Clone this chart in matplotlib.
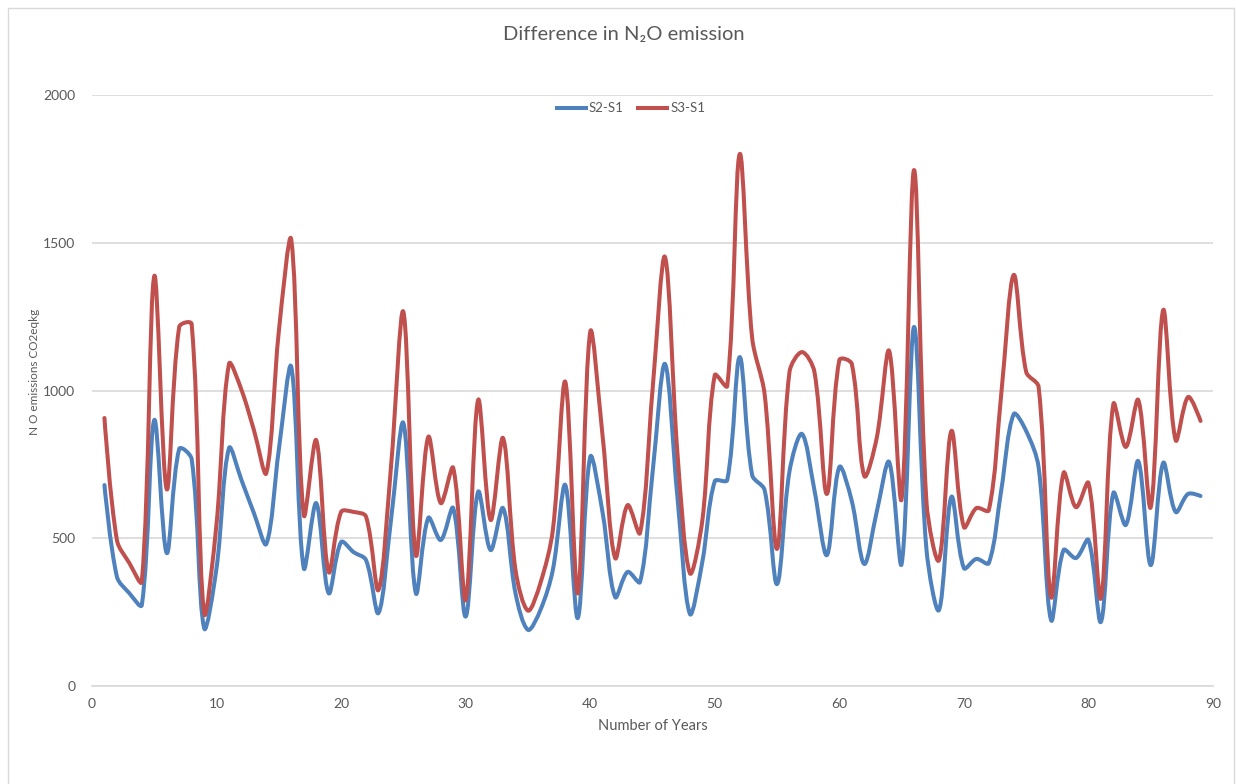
import numpy as np
import matplotlib
matplotlib.use('Agg')
import matplotlib.pyplot as plt
from matplotlib.path import Path
from matplotlib.patches import PathPatch, Rectangle
from matplotlib.lines import Line2D

plt.rcParams['font.family'] = ['Lato', 'DejaVu Sans']

years = list(range(1, 90))

s2_s1 = [680, 370, 314, 274, 900, 450, 802, 768, 196, 400,
         805, 697, 585, 481, 800, 1080, 399, 619, 314, 487,
         453, 426, 247, 560, 890, 314, 569, 494, 602, 235,
         657, 460, 602, 314, 190, 257, 393, 680, 230, 775,
         585, 301, 386, 352, 720, 1090, 640, 244, 420, 693,
         697, 1113, 714, 663, 345, 727, 853, 663, 443, 741,
         626, 413, 589, 758, 413, 1215, 460, 257, 640, 399,
         430, 416, 663, 920, 863, 740, 223, 460, 433, 494,
         217, 653, 545, 761, 409, 755, 589, 650, 643]

s3_s1 = [907, 494, 416, 353, 1387, 666, 1215, 1225, 247, 550,
         1090, 1002, 866, 721, 1200, 1510, 579, 832, 386, 589,
         589, 573, 325, 740, 1266, 443, 843, 619, 738, 291,
         968, 562, 839, 393, 255, 348, 528, 1029, 314, 1198,
         843, 433, 612, 518, 1000, 1452, 790, 382, 560, 1052,
         1015, 1800, 1178, 988, 464, 1063, 1130, 1063, 650, 1103,
         1090, 711, 839, 1134, 633, 1746, 620, 426, 863, 538,
         602, 595, 988, 1391, 1063, 1012, 301, 721, 605, 687,
         297, 954, 809, 968, 605, 1272, 832, 978, 897]

series_names = ['S2-S1', 'S3-S1']
series_colors = ['#4F81BD', '#C0504D']
text_color = '#595959'
grid_color = '#D9D9D9'

# pixels per data unit, used to weigh the bezier handles in screen space
PX_X = 1121 / 90
PX_Y = 591 / 2000


def smooth_path(x, y):
    # bezier through every point; handle length follows neighbouring segment lengths
    pts = np.column_stack([x, y]).astype(float)
    scr = pts * [PX_X, PX_Y]
    n = len(pts)
    seg = np.hypot(*np.diff(scr, axis=0).T)

    def handle(i):
        # tangent at point i, split into (back, forward) offsets
        if i == 0 or i == n - 1:
            return np.zeros(2), np.zeros(2)
        t = pts[i + 1] - pts[i - 1]
        d0, d1 = seg[i - 1], seg[i]
        tot = d0 + d1
        return t * d0 / tot / 3.0, t * d1 / tot / 3.0

    handles = [handle(i) for i in range(n)]
    verts = [pts[0]]
    codes = [Path.MOVETO]
    for i in range(n - 1):
        c1 = pts[i] + handles[i][1]
        c2 = pts[i + 1] - handles[i + 1][0]
        verts += [c1, c2, pts[i + 1]]
        codes += [Path.CURVE4] * 3
    return Path(verts, codes)


fig = plt.figure(figsize=(12.36, 7.84), dpi=100)
ax = fig.add_axes([92 / 1236, 98 / 784, 1121 / 1236, 591 / 784])

for vals, col in zip([s2_s1, s3_s1], series_colors):
    patch = PathPatch(smooth_path(years, vals), facecolor='none', edgecolor=col,
                      lw=2.9, capstyle='round', joinstyle='round', zorder=3)
    ax.add_patch(patch)

ax.set_xlim(0, 90)
ax.set_ylim(0, 2000)
ax.set_xticks(range(0, 91, 10))
ax.set_yticks(range(0, 2001, 500))
ax.tick_params(length=0, colors=text_color, labelsize=10)
ax.tick_params(axis='x', pad=9)
ax.tick_params(axis='y', pad=12)
ax.grid(axis='y', color=grid_color, lw=1.2)
ax.set_axisbelow(True)
for side in ['top', 'right', 'left']:
    ax.spines[side].set_visible(False)
ax.spines['bottom'].set_color(grid_color)
ax.spines['bottom'].set_linewidth(1.2)

ax.set_xlabel('Number of Years', color=text_color, fontsize=10.5, labelpad=6)
fig.text(35 / 1236, 1 - 372 / 784, 'N O emissions CO2eqkg', rotation=90,
         ha='center', va='center', color=text_color, fontsize=8.5)
fig.text(624 / 1236, 1 - 34 / 784, 'Difference in N\u2082O emission',
         ha='center', va='center', color=text_color, fontsize=14.5)

handles = [Line2D([], [], color=c, lw=2.9) for c in series_colors]
ax.legend(handles, series_names, loc='upper center', bbox_to_anchor=(0.481, 1.008),
          ncol=2, frameon=False, fontsize=9.5, labelcolor=text_color,
          handlelength=2.2, handletextpad=0.25, columnspacing=1.1)

# outer chart frame
fig.patches.append(Rectangle((8 / 1236, -0.01), 1226 / 1236, 1 - 8 / 784 + 0.01,
                             transform=fig.transFigure, fill=False,
                             edgecolor=grid_color, lw=1))

fig.savefig('out.png', dpi=100, facecolor='white')
